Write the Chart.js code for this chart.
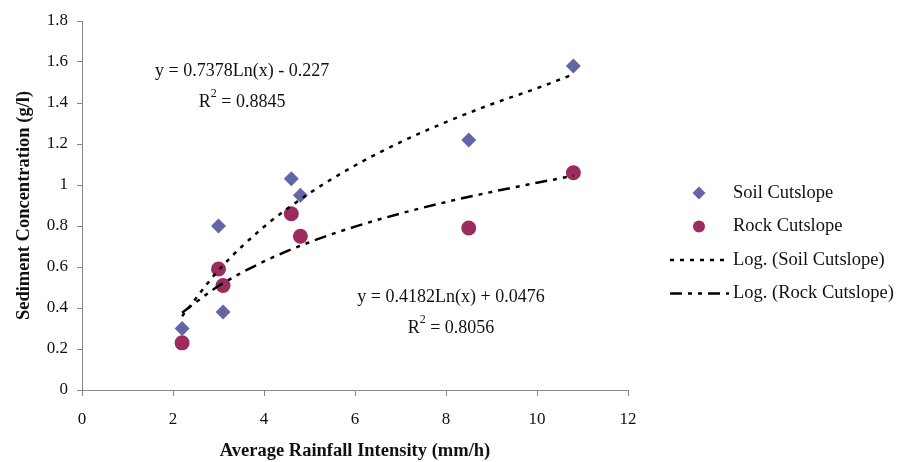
<!DOCTYPE html>
<html>
<head>
<meta charset="utf-8">
<script src="https://cdn.jsdelivr.net/npm/chart.js@4/dist/chart.umd.min.js"></script>
<style>
  html, body { margin: 0; padding: 0; background: #fff; }
  #wrap { width: 902px; height: 462px; }
</style>
</head>
<body>
<div id="wrap"><canvas id="myChart"></canvas></div>
<script>
// values
var soilX = [2.2, 3.0, 3.1, 4.6, 4.8, 8.5, 10.8];
var soilY = [0.30, 0.80, 0.38, 1.03, 0.95, 1.22, 1.58];
var rockX = [2.2, 3.0, 3.1, 4.6, 4.8, 8.5, 10.8];
var rockY = [0.23, 0.59, 0.51, 0.86, 0.75, 0.79, 1.06];

// trend lines as drawn
var trendX = [2.2, 3, 4, 5, 6, 7, 8, 9, 10, 10.8];
var soilTrendY = [0.36, 0.584, 0.796, 0.960, 1.095, 1.209, 1.307, 1.394, 1.472, 1.54];
var rockTrendY = [0.377, 0.507, 0.627, 0.721, 0.797, 0.861, 0.917, 0.966, 1.011, 1.045];

var soilEq = ["y = 0.7378Ln(x) - 0.227", "0.8845"];
var rockEq = ["y = 0.4182Ln(x) + 0.0476", "0.8056"];

var xTicks = [0, 2, 4, 6, 8, 10, 12];
var yTicks = [0, 0.2, 0.4, 0.6, 0.8, 1, 1.2, 1.4, 1.6, 1.8];

var serif = "'Liberation Serif', 'Times New Roman', serif";
var gray = "#878787";

function pts(xs, ys) {
    var out = [];
    for (var i = 0; i < xs.length; i++) out.push({ x: xs[i], y: ys[i] });
    return out;
}

// equations + R^2 text, placed in data units
var eqPlugin = {
    id: 'eqText',
    afterDatasetsDraw: function (chart) {
        var ctx = chart.ctx, xs = chart.scales.x, ys = chart.scales.y;
        function eq(lines, cx, cy1, cy2) {
            ctx.save();
            ctx.fillStyle = "#111";
            ctx.font = "18px " + serif;
            ctx.textBaseline = "middle";
            ctx.textAlign = "center";
            var px = xs.getPixelForValue(cx);
            ctx.fillText(lines[0], px, ys.getPixelForValue(cy1));
            // R² with raised 2
            var y2 = ys.getPixelForValue(cy2);
            var a = "R", b = " = " + lines[1];
            var wa = ctx.measureText(a).width, wb = ctx.measureText(b).width;
            ctx.font = "12px " + serif;
            var w2 = ctx.measureText("2").width;
            var left = px - (wa + w2 + wb) / 2;
            ctx.textAlign = "left";
            ctx.font = "18px " + serif;
            ctx.fillText(a, left, y2);
            ctx.font = "12px " + serif;
            ctx.fillText("2", left + wa, y2 - 8);
            ctx.font = "18px " + serif;
            ctx.fillText(b, left + wa + w2, y2);
            ctx.restore();
        }
        eq(soilEq, 3.52, 1.556, 1.405);
        eq(rockEq, 8.11, 0.454, 0.302);
    }
};

// legend on the right, drawn by hand so each entry gets its own sample
var legendPlugin = {
    id: 'sideLegend',
    afterDraw: function (chart) {
        var ctx = chart.ctx;
        var ds = chart.data.datasets;
        var symX = 699, textX = 733, y0 = 193, step = 33.5;
        ctx.save();
        ctx.font = "18.5px " + serif;
        ctx.textBaseline = "middle";
        for (var i = 0; i < ds.length; i++) {
            var y = y0 + i * step;
            var d = ds[i];
            if (d.showLine) {
                ctx.save();
                ctx.strokeStyle = d.borderColor;
                ctx.lineWidth = d.borderWidth;
                ctx.setLineDash(d.borderDash);
                ctx.beginPath();
                ctx.moveTo(670, y);
                ctx.lineTo(729, y);
                ctx.stroke();
                ctx.restore();
            } else {
                ctx.fillStyle = d.backgroundColor;
                ctx.beginPath();
                if (d.pointStyle === 'circle') {
                    ctx.arc(symX, y, 6, 0, Math.PI * 2);
                } else {
                    ctx.moveTo(symX, y - 6.5); ctx.lineTo(symX + 6.5, y);
                    ctx.lineTo(symX, y + 6.5); ctx.lineTo(symX - 6.5, y);
                    ctx.closePath();
                }
                ctx.fill();
            }
            ctx.fillStyle = "#111";
            ctx.fillText(d.label, textX, y);
        }
        ctx.restore();
    }
};

const ctx = document.getElementById('myChart').getContext('2d');

var myChart = new Chart(ctx, {
    type: 'scatter',
    data: {
        datasets: [{
            label: 'Soil Cutslope',
            data: pts(soilX, soilY),
            pointStyle: 'rectRot',
            pointRadius: 7.5,
            pointHoverRadius: 7.5,
            backgroundColor: '#6464a8',
            borderColor: '#6464a8',
            borderWidth: 0,
            showLine: false,
            order: 1
        }, {
            label: 'Rock Cutslope',
            data: pts(rockX, rockY),
            pointStyle: 'circle',
            pointRadius: 7.5,
            pointHoverRadius: 7.5,
            backgroundColor: '#9c2c5e',
            borderColor: '#9c2c5e',
            borderWidth: 0,
            showLine: false,
            order: 1
        }, {
            label: 'Log. (Soil Cutslope)',
            data: pts(trendX, soilTrendY),
            showLine: true,
            pointRadius: 0,
            borderColor: '#000',
            borderWidth: 2.5,
            borderDash: [4, 6],
            cubicInterpolationMode: 'monotone',
            order: 0
        }, {
            label: 'Log. (Rock Cutslope)',
            data: pts(trendX, rockTrendY),
            showLine: true,
            pointRadius: 0,
            borderColor: '#000',
            borderWidth: 2.5,
            borderDash: [12, 6, 4, 6, 4, 6],
            cubicInterpolationMode: 'monotone',
            order: 0
        }]
    },
    options: {
        responsive: true,
        maintainAspectRatio: false,
        animation: { duration: 0 },
        layout: { padding: { left: 0, right: 274, top: 21, bottom: 0 } },
        plugins: {
            legend: { display: false },
            tooltip: { enabled: false }
        },
        scales: {
            x: {
                type: 'linear',
                min: 0, max: 12,
                afterFit: function (s) { s.height = 72; },
                afterBuildTicks: function (s) { s.ticks = xTicks.map(function (v) { return { value: v }; }); },
                grid: { drawOnChartArea: false, drawTicks: true, tickLength: 6, color: gray },
                border: { display: true, color: gray, width: 1 },
                ticks: { color: '#111', padding: 13, font: { family: serif, size: 17 } },
                title: {
                    display: true,
                    text: 'Average Rainfall Intensity (mm/h)',
                    color: '#111',
                    font: { family: serif, size: 18.5, weight: 'bold' },
                    padding: { top: 0, bottom: 0 }
                }
            },
            y: {
                type: 'linear',
                min: 0, max: 1.8,
                afterFit: function (s) { s.width = 82; },
                afterBuildTicks: function (s) { s.ticks = yTicks.map(function (v) { return { value: v }; }); },
                grid: { drawOnChartArea: false, drawTicks: true, tickLength: 5, color: gray },
                border: { display: true, color: gray, width: 1 },
                ticks: {
                    color: '#111', padding: 9, font: { family: serif, size: 17 },
                    callback: function (v) { return String(Math.round(v * 10) / 10); }
                },
                title: {
                    display: true,
                    text: 'Sediment Concentration (g/l)',
                    color: '#111',
                    font: { family: serif, size: 18.5, weight: 'bold' },
                    padding: { top: 13, bottom: 0 }
                }
            }
        }
    },
    plugins: [eqPlugin, legendPlugin]
});
</script>
</body>
</html>
